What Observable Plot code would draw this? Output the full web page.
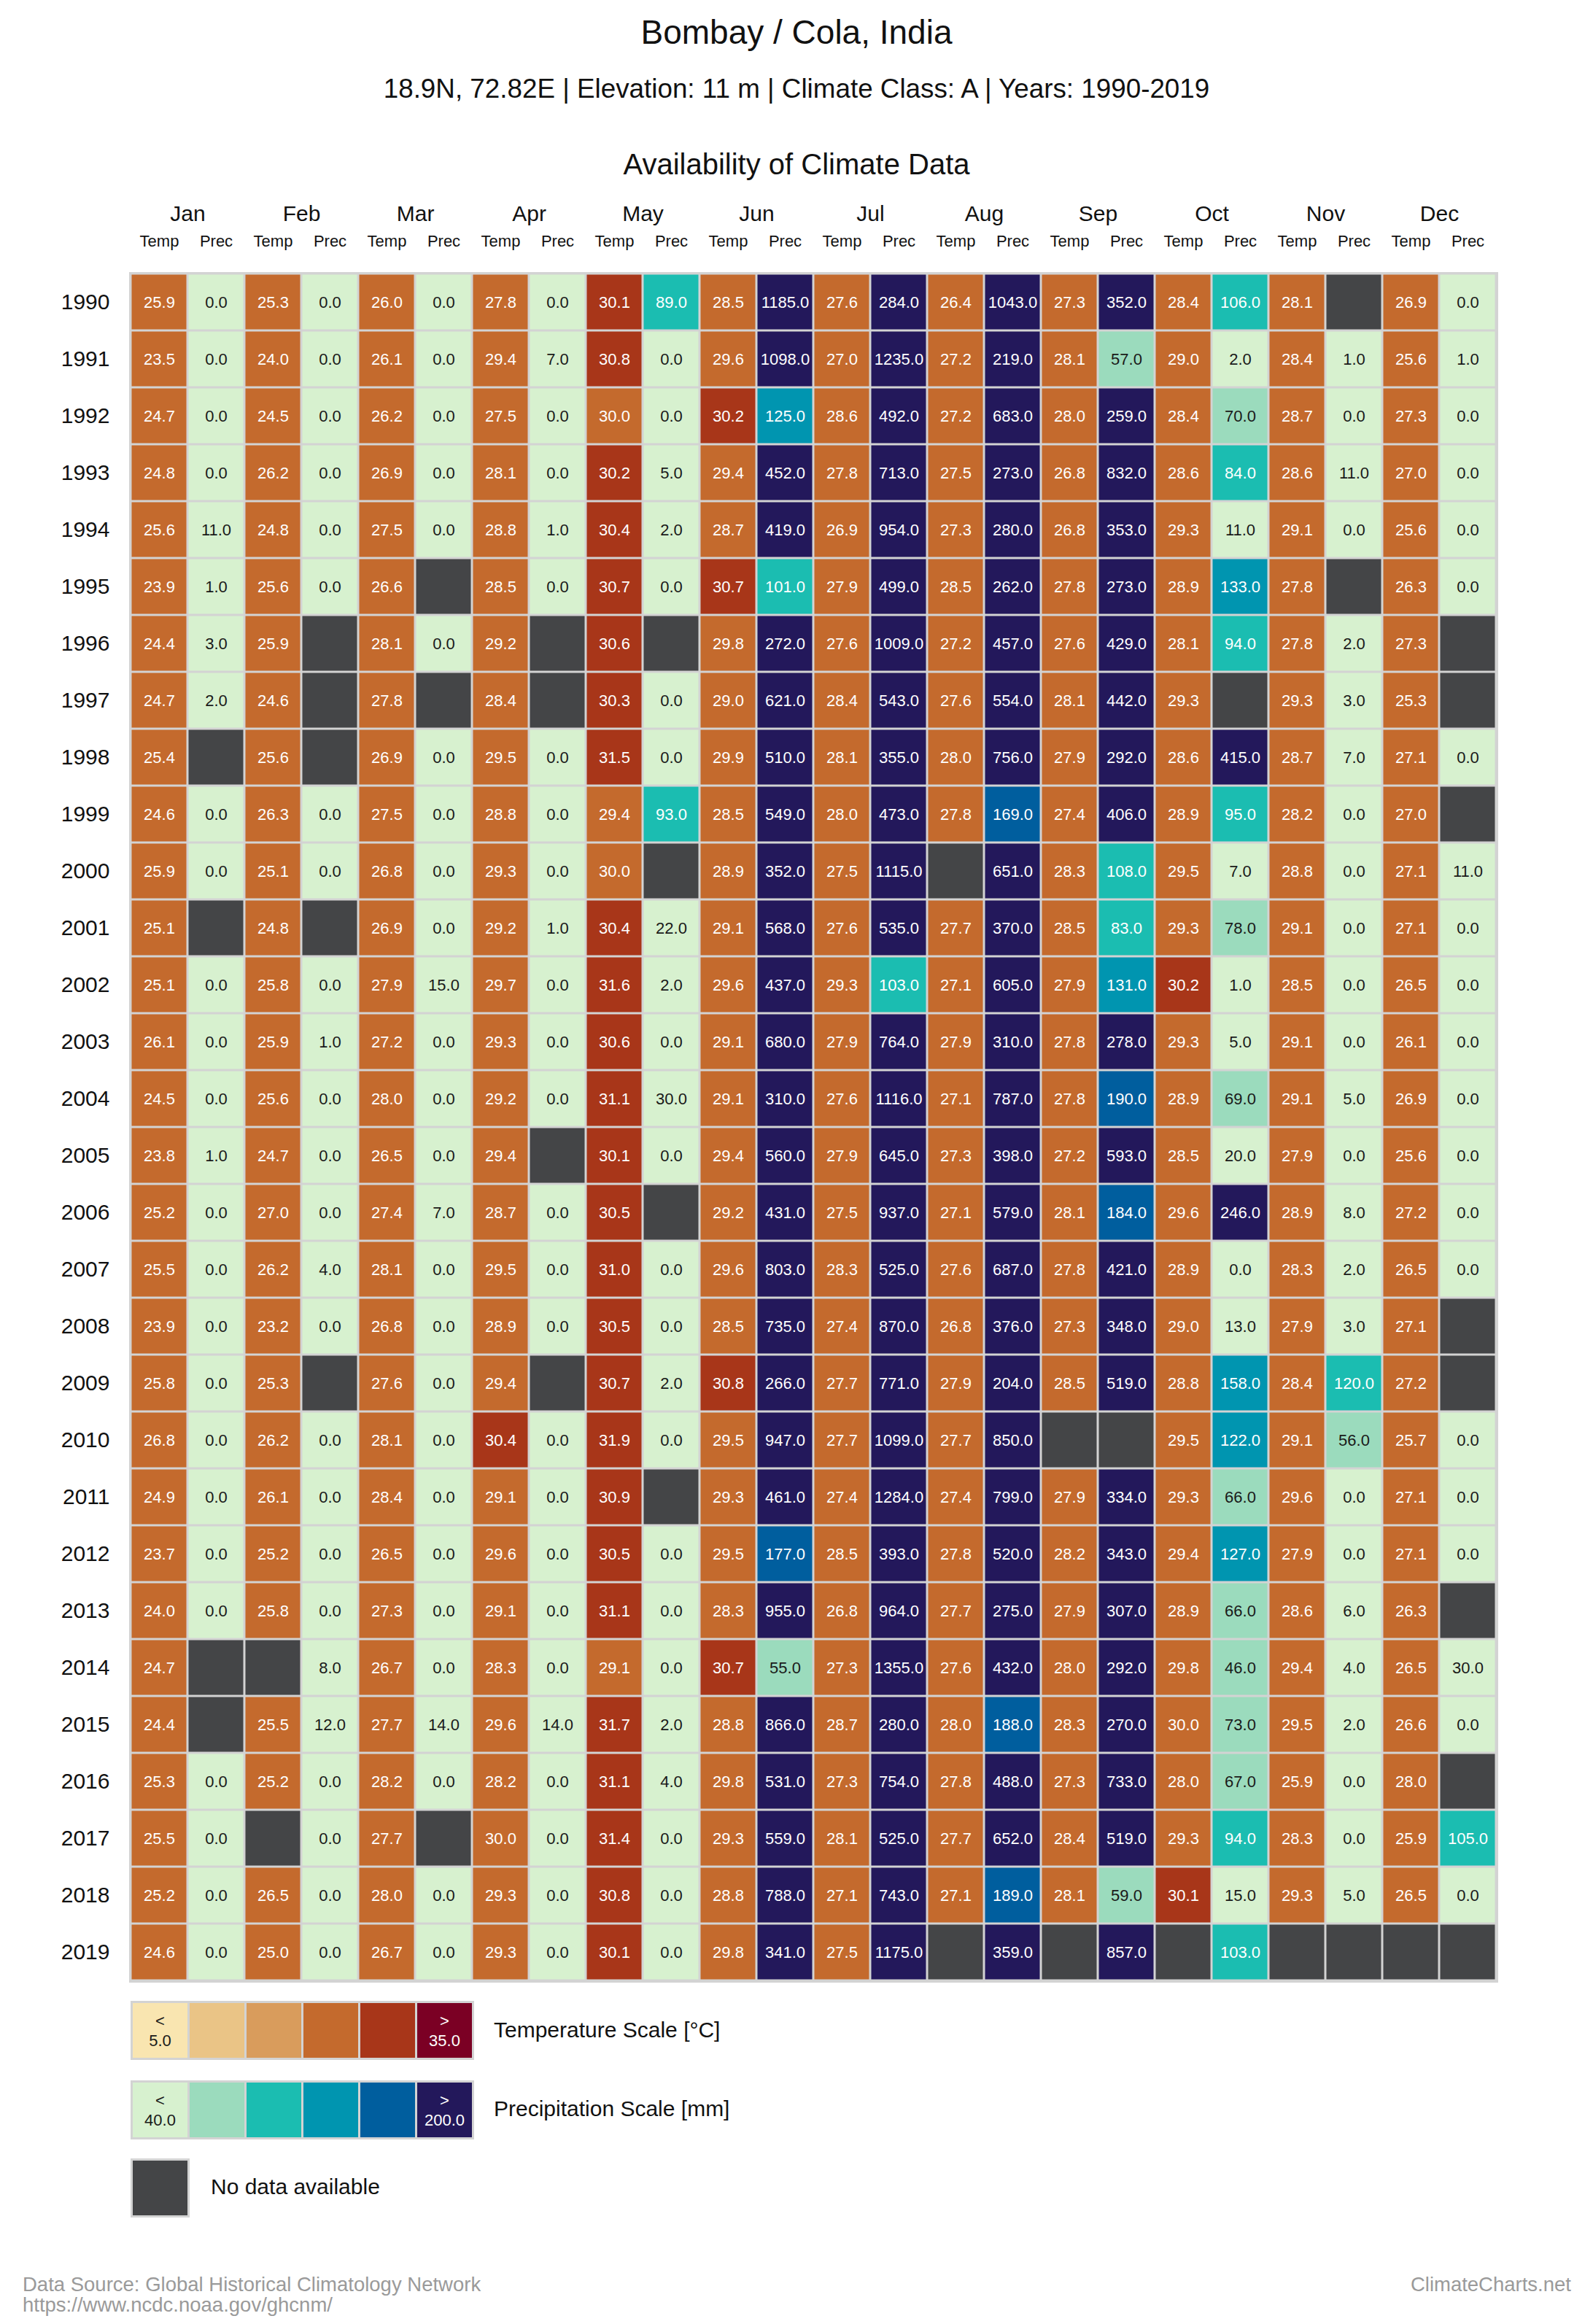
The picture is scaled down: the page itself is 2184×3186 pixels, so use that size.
<!DOCTYPE html>
<html><head><meta charset="utf-8">
<script src="https://cdn.jsdelivr.net/npm/d3@7"></script>
<script src="https://cdn.jsdelivr.net/npm/@observablehq/plot@0.6"></script>
<style>
body{margin:0;background:#fff;font-family:"Liberation Sans",Arial,sans-serif;color:#111;}
#page{position:relative;width:2184px;height:3186px;overflow:hidden;}
.t{position:absolute;white-space:nowrap;line-height:1;transform:translateY(-50%);}
.c{left:0;width:2184px;text-align:center;}
#chart{position:absolute;left:0;top:250px;}
#chart svg{overflow:visible;}
#chart g[aria-label^="y-axis"] text{font-size:30px;}
#chart g[aria-label^="x-axis"] text{font-size:22px;}
.legend{position:absolute;left:179px;display:flex;gap:3px;padding:3px;background:#d3d3d3;}
.sw{width:75px;height:75px;display:flex;flex-direction:column;align-items:center;justify-content:center;font-size:22px;line-height:27px;}
.foot{color:#9a9a9a;font-size:27.5px;}
</style></head>
<body><div id="page">
<div class="t c" style="top:44px;font-size:46px;">Bombay / Cola, India</div>
<div class="t c" style="top:122px;font-size:36.8px;">18.9N, 72.82E | Elevation: 11 m | Climate Class: A | Years: 1990-2019</div>
<div class="t c" style="top:225px;font-size:40px;">Availability of Climate Data</div>
<div id="chart"></div>
<div id="legendTemp" class="legend" style="top:2743px;"></div>
<div class="t" style="left:677px;top:2783px;font-size:30px;">Temperature Scale [°C]</div>
<div id="legendPrec" class="legend" style="top:2852px;"></div>
<div class="t" style="left:677px;top:2891px;font-size:30px;">Precipitation Scale [mm]</div>
<div class="legend" style="top:2959px;"><div class="sw" style="background:#444547"></div></div>
<div class="t" style="left:289px;top:2998px;font-size:30px;">No data available</div>
<div class="t foot" style="left:31px;top:3132px;">Data Source: Global Historical Climatology Network</div>
<div class="t foot" style="left:31px;top:3160px;">https://www.ncdc.noaa.gov/ghcnm/</div>
<div class="t foot" style="right:30px;top:3132px;">ClimateCharts.net</div>
</div>
<script>
const months = ["Jan","Feb","Mar","Apr","May","Jun","Jul","Aug","Sep","Oct","Nov","Dec"];
const kinds = ["Temp","Prec"];
const years = ["1990","1991","1992","1993","1994","1995","1996","1997","1998","1999",
  "2000","2001","2002","2003","2004","2005","2006","2007","2008","2009",
  "2010","2011","2012","2013","2014","2015","2016","2017","2018","2019"];

// Monthly mean temperature [°C], one row per year (Jan..Dec); null = no data
const temperature = [
  [25.9,25.3,26.0,27.8,30.1,28.5,27.6,26.4,27.3,28.4,28.1,26.9],
  [23.5,24.0,26.1,29.4,30.8,29.6,27.0,27.2,28.1,29.0,28.4,25.6],
  [24.7,24.5,26.2,27.5,30.0,30.2,28.6,27.2,28.0,28.4,28.7,27.3],
  [24.8,26.2,26.9,28.1,30.2,29.4,27.8,27.5,26.8,28.6,28.6,27.0],
  [25.6,24.8,27.5,28.8,30.4,28.7,26.9,27.3,26.8,29.3,29.1,25.6],
  [23.9,25.6,26.6,28.5,30.7,30.7,27.9,28.5,27.8,28.9,27.8,26.3],
  [24.4,25.9,28.1,29.2,30.6,29.8,27.6,27.2,27.6,28.1,27.8,27.3],
  [24.7,24.6,27.8,28.4,30.3,29.0,28.4,27.6,28.1,29.3,29.3,25.3],
  [25.4,25.6,26.9,29.5,31.5,29.9,28.1,28.0,27.9,28.6,28.7,27.1],
  [24.6,26.3,27.5,28.8,29.4,28.5,28.0,27.8,27.4,28.9,28.2,27.0],
  [25.9,25.1,26.8,29.3,30.0,28.9,27.5,null,28.3,29.5,28.8,27.1],
  [25.1,24.8,26.9,29.2,30.4,29.1,27.6,27.7,28.5,29.3,29.1,27.1],
  [25.1,25.8,27.9,29.7,31.6,29.6,29.3,27.1,27.9,30.2,28.5,26.5],
  [26.1,25.9,27.2,29.3,30.6,29.1,27.9,27.9,27.8,29.3,29.1,26.1],
  [24.5,25.6,28.0,29.2,31.1,29.1,27.6,27.1,27.8,28.9,29.1,26.9],
  [23.8,24.7,26.5,29.4,30.1,29.4,27.9,27.3,27.2,28.5,27.9,25.6],
  [25.2,27.0,27.4,28.7,30.5,29.2,27.5,27.1,28.1,29.6,28.9,27.2],
  [25.5,26.2,28.1,29.5,31.0,29.6,28.3,27.6,27.8,28.9,28.3,26.5],
  [23.9,23.2,26.8,28.9,30.5,28.5,27.4,26.8,27.3,29.0,27.9,27.1],
  [25.8,25.3,27.6,29.4,30.7,30.8,27.7,27.9,28.5,28.8,28.4,27.2],
  [26.8,26.2,28.1,30.4,31.9,29.5,27.7,27.7,null,29.5,29.1,25.7],
  [24.9,26.1,28.4,29.1,30.9,29.3,27.4,27.4,27.9,29.3,29.6,27.1],
  [23.7,25.2,26.5,29.6,30.5,29.5,28.5,27.8,28.2,29.4,27.9,27.1],
  [24.0,25.8,27.3,29.1,31.1,28.3,26.8,27.7,27.9,28.9,28.6,26.3],
  [24.7,null,26.7,28.3,29.1,30.7,27.3,27.6,28.0,29.8,29.4,26.5],
  [24.4,25.5,27.7,29.6,31.7,28.8,28.7,28.0,28.3,30.0,29.5,26.6],
  [25.3,25.2,28.2,28.2,31.1,29.8,27.3,27.8,27.3,28.0,25.9,28.0],
  [25.5,null,27.7,30.0,31.4,29.3,28.1,27.7,28.4,29.3,28.3,25.9],
  [25.2,26.5,28.0,29.3,30.8,28.8,27.1,27.1,28.1,30.1,29.3,26.5],
  [24.6,25.0,26.7,29.3,30.1,29.8,27.5,null,null,null,null,null]
];

// Monthly precipitation [mm], one row per year (Jan..Dec); null = no data
const precipitation = [
  [0,0,0,0,89,1185,284,1043,352,106,null,0],
  [0,0,0,7,0,1098,1235,219,57,2,1,1],
  [0,0,0,0,0,125,492,683,259,70,0,0],
  [0,0,0,0,5,452,713,273,832,84,11,0],
  [11,0,0,1,2,419,954,280,353,11,0,0],
  [1,0,null,0,0,101,499,262,273,133,null,0],
  [3,null,0,null,null,272,1009,457,429,94,2,null],
  [2,null,null,null,0,621,543,554,442,null,3,null],
  [null,null,0,0,0,510,355,756,292,415,7,0],
  [0,0,0,0,93,549,473,169,406,95,0,null],
  [0,0,0,0,null,352,1115,651,108,7,0,11],
  [null,null,0,1,22,568,535,370,83,78,0,0],
  [0,0,15,0,2,437,103,605,131,1,0,0],
  [0,1,0,0,0,680,764,310,278,5,0,0],
  [0,0,0,0,30,310,1116,787,190,69,5,0],
  [1,0,0,null,0,560,645,398,593,20,0,0],
  [0,0,7,0,null,431,937,579,184,246,8,0],
  [0,4,0,0,0,803,525,687,421,0,2,0],
  [0,0,0,0,0,735,870,376,348,13,3,null],
  [0,null,0,null,2,266,771,204,519,158,120,null],
  [0,0,0,0,0,947,1099,850,null,122,56,0],
  [0,0,0,0,null,461,1284,799,334,66,0,0],
  [0,0,0,0,0,177,393,520,343,127,0,0],
  [0,0,0,0,0,955,964,275,307,66,6,null],
  [null,8,0,0,0,55,1355,432,292,46,4,30],
  [null,12,14,14,2,866,280,188,270,73,2,0],
  [0,0,0,0,4,531,754,488,733,67,0,null],
  [0,0,null,0,0,559,525,652,519,94,0,105],
  [0,0,0,0,0,788,743,189,59,15,5,0],
  [0,0,0,0,0,341,1175,359,857,103,null,null]
];

// Colour classes (upper bound inclusive)
const tempThresholds = [5, 15, 20, 30, 35];
const tempColors = ["#f9e5b0","#eac486","#d99c5c","#c46a2d","#a83619","#7b0024"];
const tempText = ["#1a1a1a","#1a1a1a","#1a1a1a","#ffffff","#ffffff","#ffffff"];
const precThresholds = [40, 80, 120, 160, 200];
const precColors = ["#d7f1cf","#9bdbbd","#1bbdb1","#0095b0","#005e9e","#23185b"];
const precText = ["#1a1a1a","#1a1a1a","#ffffff","#ffffff","#ffffff","#ffffff"];
const noDataColor = "#444547";

const tempClass = d3.scaleThreshold().domain(tempThresholds.map(t => t + 1e-9)).range(d3.range(6));
const precClass = d3.scaleThreshold().domain(precThresholds.map(t => t + 1e-9)).range(d3.range(6));

const cells = [];
years.forEach((year, i) => {
  months.forEach((m, j) => {
    const t = temperature[i][j], p = precipitation[i][j];
    const tc = t == null ? null : tempClass(t);
    const pc = p == null ? null : precClass(p);
    cells.push({year, col: m + " Temp", value: t,
      fill: t == null ? noDataColor : tempColors[tc], ink: t == null ? null : tempText[tc]});
    cells.push({year, col: m + " Prec", value: p,
      fill: p == null ? noDataColor : precColors[pc], ink: p == null ? null : precText[pc]});
  });
});

const W = 2184, ML = 178, MR = 132, MT = 124, MB = 4, H = 2470;
const step = (W - ML - MR) / (months.length * kinds.length);

const chart = Plot.plot({
  width: W, height: H,
  marginLeft: ML, marginRight: MR, marginTop: MT, marginBottom: MB,
  style: {fontFamily: '"Liberation Sans", Arial, sans-serif', fontSize: "22px", background: "transparent", color: "#111"},
  x: {type: "band", domain: months.flatMap(m => kinds.map(k => m + " " + k)), padding: 0,
      axis: "top", tickSize: 0, tickPadding: 37, tickFormat: d => d.split(" ")[1], label: null},
  y: {type: "band", domain: years, padding: 0, tickSize: 0, tickPadding: 28, label: null},
  color: {type: "identity"},
  marks: [
    Plot.frame({fill: "#d3d3d3", stroke: "#d3d3d3", strokeWidth: 3}),
    Plot.cell(cells, {x: "col", y: "year", fill: "fill", inset: 1.5}),
    Plot.text(cells.filter(d => d.value != null), {x: "col", y: "year", text: d => d.value.toFixed(1), fill: "ink", fontSize: 22}),
    Plot.text(months, {x: d => d + " Temp", dx: step / 2, frameAnchor: "top", dy: -93, text: d => d, fontSize: 30, fill: "#111"})
  ]
});
document.getElementById("chart").appendChild(chart);

function legend(id, colors, inks, lo, hi) {
  const el = document.getElementById(id);
  colors.forEach((c, i) => {
    const s = document.createElement("div");
    s.className = "sw";
    s.style.background = c;
    s.style.color = inks[i];
    if (i === 0) s.innerHTML = "<span>&lt;</span><span>" + lo.toFixed(1) + "</span>";
    if (i === colors.length - 1) s.innerHTML = "<span>&gt;</span><span>" + hi.toFixed(1) + "</span>";
    el.appendChild(s);
  });
}
legend("legendTemp", tempColors, tempText, tempThresholds[0], tempThresholds[tempThresholds.length - 1]);
legend("legendPrec", precColors, precText, precThresholds[0], precThresholds[precThresholds.length - 1]);
</script>
</body></html>
